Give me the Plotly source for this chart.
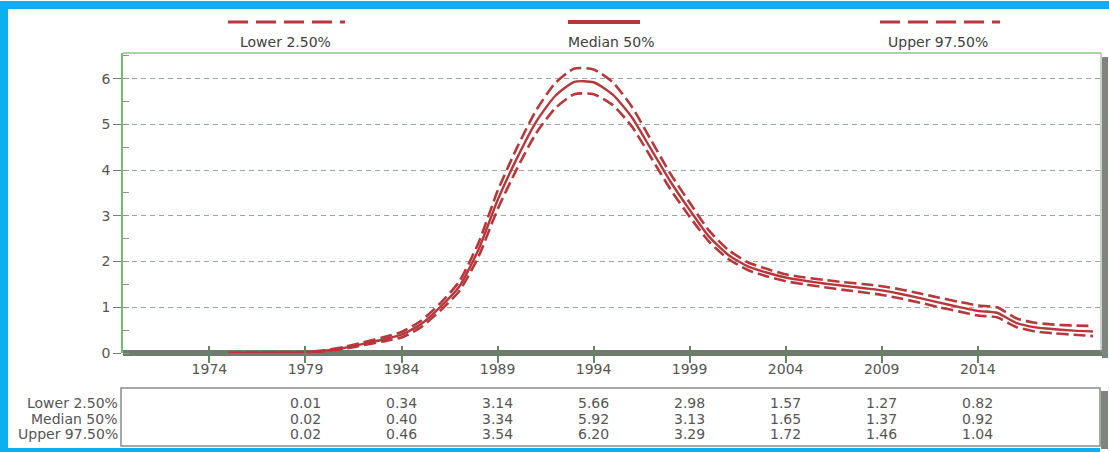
import plotly.graph_objects as go

# ---------------- data ----------------
years = list(range(1975, 2021))
lower = [0.00, 0.00, 0.00, 0.01, 0.01, 0.04, 0.09, 0.17, 0.25, 0.34,
         0.56, 0.92, 1.35, 2.10, 3.14, 4.02, 4.80, 5.35, 5.66, 5.66,
         5.42, 4.95, 4.27, 3.58, 2.98, 2.44, 2.06, 1.82, 1.68, 1.57,
         1.50, 1.44, 1.38, 1.33, 1.27, 1.19, 1.10, 1.00, 0.91, 0.82,
         0.78, 0.57, 0.47, 0.43, 0.40, 0.37]
median = [0.00, 0.00, 0.01, 0.01, 0.02, 0.05, 0.11, 0.20, 0.29, 0.40,
          0.63, 1.00, 1.45, 2.25, 3.34, 4.25, 5.05, 5.62, 5.93, 5.92,
          5.65, 5.15, 4.45, 3.75, 3.13, 2.55, 2.15, 1.90, 1.76, 1.65,
          1.58, 1.52, 1.47, 1.42, 1.37, 1.29, 1.20, 1.10, 1.01, 0.92,
          0.88, 0.66, 0.56, 0.52, 0.49, 0.47]
upper = [0.00, 0.01, 0.01, 0.02, 0.02, 0.06, 0.13, 0.23, 0.34, 0.46,
         0.70, 1.08, 1.56, 2.40, 3.54, 4.48, 5.30, 5.90, 6.22, 6.20,
         5.92, 5.38, 4.65, 3.92, 3.29, 2.68, 2.26, 1.99, 1.84, 1.72,
         1.65, 1.60, 1.55, 1.51, 1.46, 1.39, 1.30, 1.21, 1.12, 1.04,
         1.00, 0.76, 0.66, 0.62, 0.60, 0.59]

series_names = ["Lower 2.50%", "Median 50%", "Upper 97.50%"]

x_tick_years = [1974, 1979, 1984, 1989, 1994, 1999, 2004, 2009, 2014]
y_ticks = [0, 1, 2, 3, 4, 5, 6]

table_years = [1979, 1984, 1989, 1994, 1999, 2004, 2009, 2014]
table_lower = [0.01, 0.34, 3.14, 5.66, 2.98, 1.57, 1.27, 0.82]
table_median = [0.02, 0.40, 3.34, 5.92, 3.13, 1.65, 1.37, 0.92]
table_upper = [0.02, 0.46, 3.54, 6.20, 3.29, 1.72, 1.46, 1.04]

# ---------------- styling / geometry ----------------
W, H = 1109, 452
L, R, T, B = 123, 7, 53, 99
PW, PH = W - L - R, H - T - B
FONT = "DejaVu Sans"
RED = "#b5383c"
DASH = "12px,5px"
FS = 14


def xp(px):
    return (px - L) / PW


def yp(py):
    return (T + PH - py) / PH


fig = go.Figure()
series = [(series_names[0], lower, DASH, 2.6),
          (series_names[1], median, "solid", 2.4),
          (series_names[2], upper, DASH, 2.6)]
for name, vals, dash, w in series:
    fig.add_trace(go.Scatter(
        x=years, y=vals, name=name, mode="lines",
        line=dict(color=RED, width=w, dash=dash, shape="spline", smoothing=0.6),
        showlegend=False))

shapes = []
# bottom axis band
shapes.append(dict(type="rect", xref="paper", yref="paper",
                   x0=xp(123), x1=xp(1108), y0=yp(356), y1=yp(350),
                   fillcolor="#6e7c6e", line=dict(width=0), layer="below"))
# top border
shapes.append(dict(type="line", xref="paper", yref="paper",
                   x0=xp(123), x1=xp(1101), y0=yp(53), y1=yp(53),
                   line=dict(color="#8cc48c", width=1.5)))
# right border + shadow
shapes.append(dict(type="line", xref="paper", yref="paper",
                   x0=xp(1101), x1=xp(1101), y0=yp(53), y1=yp(352),
                   line=dict(color="#9aa09a", width=1)))
shapes.append(dict(type="rect", xref="paper", yref="paper",
                   x0=xp(1102), x1=xp(1108), y0=yp(358), y1=yp(57),
                   fillcolor="#7d867d", line=dict(width=0)))
# table box + shadow
shapes.append(dict(type="rect", xref="paper", yref="paper",
                   x0=xp(121), x1=xp(1100), y0=yp(446), y1=yp(388),
                   fillcolor="rgba(0,0,0,0)", line=dict(color="#8a8a8a", width=1.5)))
shapes.append(dict(type="rect", xref="paper", yref="paper",
                   x0=xp(1101), x1=xp(1108), y0=yp(449), y1=yp(391),
                   fillcolor="#7d867d", line=dict(width=0)))
# blue frame
BLUE = "#0db0ee"
shapes.append(dict(type="rect", xref="paper", yref="paper",
                   x0=xp(0), x1=xp(1109), y0=yp(9), y1=yp(1),
                   fillcolor=BLUE, line=dict(width=0)))
shapes.append(dict(type="rect", xref="paper", yref="paper",
                   x0=xp(0), x1=xp(8), y0=yp(452), y1=yp(1),
                   fillcolor=BLUE, line=dict(width=0)))
shapes.append(dict(type="rect", xref="paper", yref="paper",
                   x0=xp(0), x1=xp(1100), y0=yp(452), y1=yp(448),
                   fillcolor=BLUE, line=dict(width=0)))
# legend samples
legend_spans = [(228, 345, "20px,8px", 3), (568, 640, "solid", 4), (880, 1000, "20px,8px", 3)]
for (x0, x1, d, w) in legend_spans:
    shapes.append(dict(type="line", xref="paper", yref="paper",
                       x0=xp(x0), x1=xp(x1), y0=yp(22), y1=yp(22),
                       line=dict(color=RED, width=w, dash=d)))

annotations = []
legend_centers = [285, 611, 938]
for name, cx in zip(series_names, legend_centers):
    annotations.append(dict(text=name, xref="paper", yref="paper", x=xp(cx), y=yp(42),
                            xanchor="center", yanchor="middle", showarrow=False,
                            font=dict(family=FONT, size=FS, color="#404040")))

row_y = [403, 418.5, 434]
for name, vals, ry in zip(series_names, [table_lower, table_median, table_upper], row_y):
    annotations.append(dict(text=name, xref="paper", yref="paper", x=xp(120), y=yp(ry),
                            xanchor="right", yanchor="middle", showarrow=False,
                            font=dict(family=FONT, size=FS, color="#555555")))
    for yr, v in zip(table_years, vals):
        annotations.append(dict(text=f"{v:.2f}", xref="x", yref="paper", x=yr, y=yp(ry),
                                xanchor="center", yanchor="middle", showarrow=False,
                                font=dict(family=FONT, size=FS, color="#555555")))

fig.update_layout(
    width=W, height=H, autosize=False,
    margin=dict(l=L, r=R, t=T, b=B, pad=0),
    paper_bgcolor="white", plot_bgcolor="white",
    showlegend=False,
    shapes=shapes, annotations=annotations,
    xaxis=dict(range=[1969.5, 2020.47], tickvals=x_tick_years,
               ticktext=[str(v) for v in x_tick_years],
               showgrid=False, zeroline=False, showline=False,
               anchor="free", position=8 / PH,
               ticks="outside", ticklen=17, tickwidth=1.5, tickcolor="#5f8a5f",
               ticklabelstandoff=-6,
               tickfont=dict(family=FONT, size=FS, color="#555555")),
    yaxis=dict(range=[0, 6.56], tickvals=y_ticks,
               showgrid=True, gridcolor="#98a898", gridwidth=1.2, griddash="5px,4px",
               zeroline=False, showline=True, linecolor="#6fbf6f", linewidth=1.5,
               ticks="outside", ticklen=8, tickwidth=1, tickcolor="#7a7a7a",
               minor=dict(ticks="inside", dtick=0.5, ticklen=6, tickcolor="#8a9a8a",
                          showgrid=False),
               tickfont=dict(family=FONT, size=FS, color="#555555")),
)

fig.write_html("out.html")
